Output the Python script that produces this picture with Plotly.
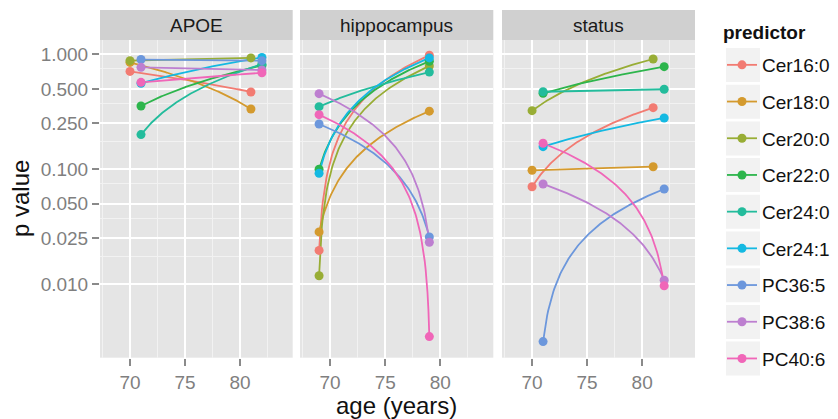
import numpy as np
import plotly.graph_objects as go

# ---------------- data ----------------
facets = ["APOE", "hippocampus", "status"]
predictors = ["Cer16:0", "Cer18:0", "Cer20:0", "Cer22:0", "Cer24:0",
              "Cer24:1", "PC36:5", "PC38:6", "PC40:6"]

apoe_age_start = [70, 70, 70, 71, 71, 71, 71, 71, 71]
apoe_age_end = [81, 81, 81, 82, 82, 82, 82, 82, 82]
apoe_p_start = [0.71, 0.85, 0.88, 0.355, 0.20, 0.56, 0.90, 0.77, 0.57]
apoe_p_end = [0.47, 0.334, 0.93, 0.80, 0.82, 0.94, 0.88, 0.73, 0.69]

hippo_age_start = [69, 69, 69, 69, 69, 69, 69, 69, 69]
hippo_age_end = [79, 79, 79, 79, 79, 79, 79, 79, 79]
hippo_p_start = [0.0196, 0.0284, 0.0118, 0.100, 0.350, 0.092, 0.247, 0.454, 0.298]
hippo_p_end = [0.98, 0.32, 0.79, 0.87, 0.70, 0.93, 0.0257, 0.0231, 0.00348]

status_age_start = [70, 70, 70, 71, 71, 71, 71, 71, 71]
status_age_end = [81, 81, 81, 82, 82, 82, 82, 82, 82]
status_p_start = [0.0703, 0.0977, 0.323, 0.457, 0.472, 0.157, 0.00315, 0.0743, 0.168]
status_p_end = [0.343, 0.105, 0.91, 0.78, 0.496, 0.279, 0.0671, 0.0108, 0.00966]

threshold = 0.05
y_tickvals = [0.010, 0.025, 0.050, 0.100, 0.250, 0.500, 1.000]
y_ticktext = ["0.010", "0.025", "0.050", "0.100", "0.250", "0.500", "1.000"]
y_minor = [0.0175, 0.0375, 0.075, 0.175, 0.375, 0.75]
x_tickvals = [70, 75, 80]
x_minor = [67.5, 72.5, 77.5, 82.5]

colors = ["#F27B72", "#D49A2E", "#98AD35", "#2DB54C", "#23BC9C",
          "#14B9E2", "#6C97DC", "#BD7FD0", "#F066B8"]

panel_data = [
    (apoe_age_start, apoe_age_end, apoe_p_start, apoe_p_end),
    (hippo_age_start, hippo_age_end, hippo_p_start, hippo_p_end),
    (status_age_start, status_age_end, status_p_start, status_p_end),
]

# ---------------- layout geometry ----------------
W, H = 838, 419
x_domains = [(100 / W, 292.7 / W), (300 / W, 493.3 / W), (502 / W, 695 / W)]
y_domain = (1 - 357.7 / H, 1 - 40 / H)
strip_top = 1 - 10 / H
x_range = [67.27, 84.8]
y_range = [-2.642, 0.1245]

FONT = "Liberation Sans, Arial, sans-serif"
fig = go.Figure()

t = np.linspace(0, 1, 120)
for k, (a0s, a1s, p0s, p1s) in enumerate(panel_data):
    xa = "x" if k == 0 else f"x{k+1}"
    ya = "y" if k == 0 else f"y{k+1}"
    for i, name in enumerate(predictors):
        # straight segment in linear p space, shown under the log transform
        xs = a0s[i] + t * (a1s[i] - a0s[i])
        ps = p0s[i] + t * (p1s[i] - p0s[i])
        fig.add_trace(go.Scatter(x=xs, y=ps, mode="lines", xaxis=xa, yaxis=ya,
                                 line=dict(color=colors[i], width=1.8),
                                 showlegend=False, hoverinfo="skip"))
    for i, name in enumerate(predictors):
        fig.add_trace(go.Scatter(x=[a0s[i], a1s[i]], y=[p0s[i], p1s[i]],
                                 mode="markers", xaxis=xa, yaxis=ya, name=name,
                                 marker=dict(color=colors[i], size=9),
                                 showlegend=False))

# legend entries
for i, name in enumerate(predictors):
    fig.add_trace(go.Scatter(x=[None], y=[None], mode="lines+markers", name=name,
                             legendgroup=name,
                             line=dict(color=colors[i], width=1.8),
                             marker=dict(color=colors[i], size=9)))

axis_common = dict(showline=False, zeroline=False, ticks="outside", ticklen=7,
                   tickwidth=1.5, tickcolor="#8A8A8A",
                   tickfont=dict(family=FONT, size=19, color="#7F7F7F"),
                   showgrid=True, gridcolor="#FFFFFF", gridwidth=2,
                   automargin=False)

layout = dict(width=W, height=H, margin=dict(l=0, r=0, t=0, b=0),
              paper_bgcolor="white", plot_bgcolor="#E5E5E5",
              font=dict(family=FONT), showlegend=True)

shapes = []
annotations = []
for k in range(3):
    xkey = "xaxis" if k == 0 else f"xaxis{k+1}"
    ykey = "yaxis" if k == 0 else f"yaxis{k+1}"
    xa = "x" if k == 0 else f"x{k+1}"
    ya = "y" if k == 0 else f"y{k+1}"
    layout[xkey] = dict(axis_common, domain=list(x_domains[k]), range=x_range,
                        tickvals=x_tickvals, anchor=ya,
                        minor=dict(tickvals=x_minor, showgrid=True,
                                   gridcolor="#F2F2F2", gridwidth=1, ticks=""),
                        title=dict(text="age (years)" if k == 1 else "",
                                   font=dict(family=FONT, size=24, color="#111111"),
                                   standoff=6))
    layout[ykey] = dict(axis_common, domain=list(y_domain), type="log",
                        range=y_range, tickvals=y_tickvals, ticktext=y_ticktext,
                        anchor=xa, showticklabels=(k == 0),
                        ticks="outside" if k == 0 else "",
                        minor=dict(tickvals=y_minor, showgrid=True,
                                   gridcolor="#F2F2F2", gridwidth=1, ticks=""))
    shapes.append(dict(type="line", xref=f"{xa} domain", yref=ya,
                       x0=0, x1=1, y0=np.log10(threshold), y1=np.log10(threshold),
                       line=dict(color="black", width=1.5, dash="7px,5px"),
                       layer="above"))
    shapes.append(dict(type="rect", xref="paper", yref="paper",
                       x0=x_domains[k][0], x1=x_domains[k][1],
                       y0=y_domain[1], y1=strip_top, fillcolor="#D0D0D0",
                       line=dict(width=0)))
    annotations.append(dict(text=facets[k], xref="paper", yref="paper",
                            x=(x_domains[k][0] + x_domains[k][1]) / 2,
                            y=(y_domain[1] + strip_top) / 2, showarrow=False,
                            xanchor="center", yanchor="middle",
                            font=dict(family=FONT, size=19, color="#1A1A1A")))

annotations.append(dict(text="p value", xref="paper", yref="paper",
                        x=20 / W, y=1 - 199 / H, textangle=-90, showarrow=False,
                        xanchor="center", yanchor="middle",
                        font=dict(family=FONT, size=24, color="#111111")))
annotations.append(dict(text="<b>predictor</b>", xref="paper", yref="paper",
                        x=721 / W, y=1 - 32 / H, showarrow=False,
                        xanchor="left", yanchor="middle",
                        font=dict(family=FONT, size=19, color="#111111")))

# legend key backgrounds
legend_first_center = 65
legend_pitch = 36.7
for i in range(len(predictors)):
    cy = legend_first_center + i * legend_pitch
    shapes.append(dict(type="rect", xref="paper", yref="paper",
                       x0=726 / W, x1=760 / W,
                       y0=1 - (cy + 17) / H, y1=1 - (cy - 17) / H,
                       fillcolor="#F2F2F2", line=dict(width=0), layer="below"))

layout["shapes"] = shapes
layout["annotations"] = annotations
layout["legend"] = dict(x=722 / W, y=1 - 46 / H, xanchor="left", yanchor="top",
                        bgcolor="rgba(0,0,0,0)", tracegroupgap=9,
                        itemwidth=30,
                        font=dict(family=FONT, size=19, color="#111111"))

fig.update_layout(**layout)
fig.write_html("out.html",
               config={"displayModeBar": False},
               post_script="document.body.style.margin='0';"
                           "document.body.style.overflow='hidden';")
